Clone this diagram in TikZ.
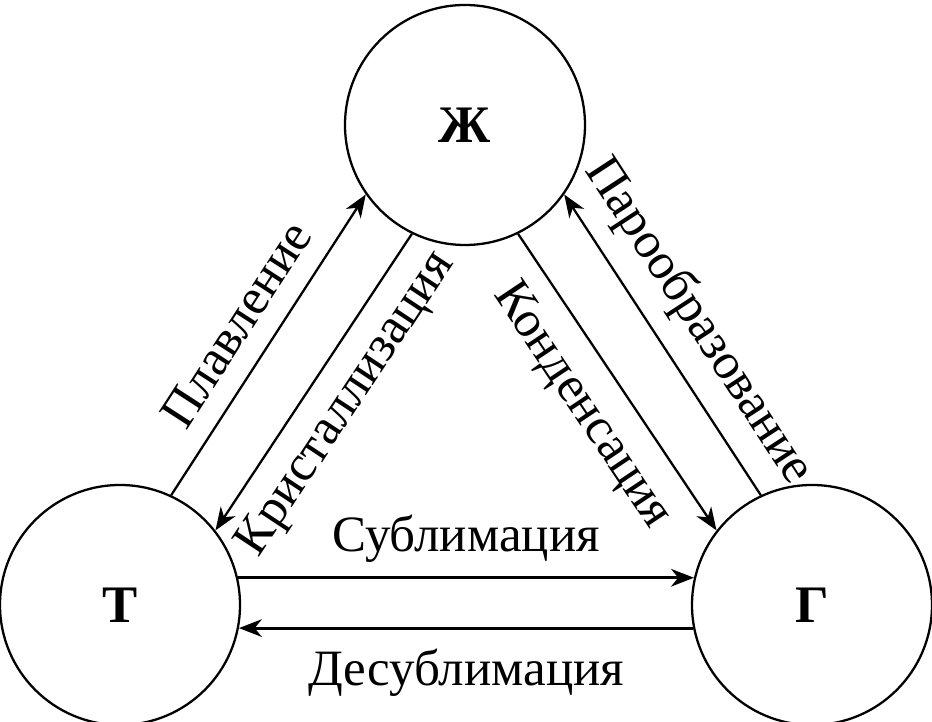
\documentclass[tikz,border=0pt]{standalone}
\usepackage{fontspec}
\setmainfont{Liberation Serif}
\usetikzlibrary{arrows.meta}
\tikzset{
	phase/.style={draw, circle, minimum size=2.4cm, inner sep=0pt, font=\fontsize{15}{18}\selectfont\bfseries},
	lbl/.style={midway, sloped, inner sep=0pt, font=\fontsize{14.5}{17}\selectfont},
	>={Stealth[length=6.5pt,width=5pt,inset=2pt]}
}
\begin{document}
\begin{tikzpicture}[line width=0.65pt]
	\useasboundingbox (0,0) rectangle (9.32,7.22);
	\node[phase] (zh) at (4.65,5.97) {Ж};
	\node[phase] (t) at (1.20,1.17) {Т};
	\node[phase] (g) at (8.12,1.17) {Г};
	\draw[->] (t.65) -- (zh.215) node[lbl, above=0.2cm] {Плавление};
	\draw[->] (zh.244) -- (t.38) node[lbl, below=0.17cm] {Кристаллизация};
	\draw[->] (zh.296) -- (g.142) node[lbl, below=0.2cm] {Конденсация};
	\draw[->] (g.115) -- (zh.325) node[lbl, above=0.18cm] {Парообразование};
	\draw[->, line width=0.8pt] (t.13) -- (g.167) node[lbl, above=0.14cm] {Сублимация};
	\draw[->, line width=0.8pt] (g.191) -- (t.349) node[lbl, below=0.2cm] {Десублимация};
\end{tikzpicture}
\end{document}
